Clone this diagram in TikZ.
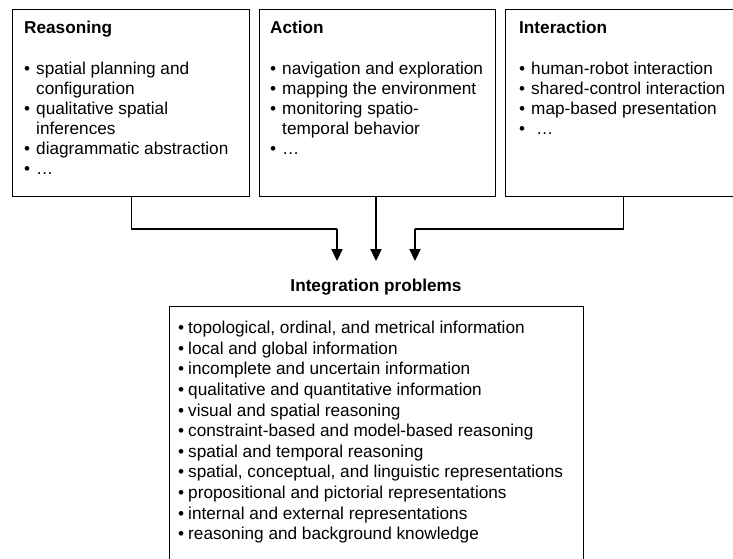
\documentclass[tikz,border=0pt]{standalone}
\usepackage{fontspec}
\setmainfont{Liberation Sans}
\usetikzlibrary{arrows.meta}
\newcommand\myitem{•\hspace{6pt}}
\newcommand\myindent{\phantom{•}\hspace{6pt}}
\newcommand\mybul{•\hspace{4pt}}
\begin{document}
\begin{tikzpicture}[x=1pt,y=-1pt,
  box/.style={draw, line width=1.1pt, rectangle, inner sep=0pt, anchor=north west},
  txt/.style={anchor=north west, inner sep=0pt, align=left, font=\fontsize{17.2}{20}\selectfont},
  ltxt/.style={anchor=north west, inner sep=0pt, align=left, font=\fontsize{17.2}{20.6}\selectfont},
  link/.style={line width=1.1pt},
  arr/.style={line width=2.2pt, -{Triangle[width=11pt,length=12pt]}}]
\useasboundingbox (0,0) rectangle (733,558);

\node[box, minimum width=237pt, minimum height=187pt] (reas) at (12,9) {};
\node[box, minimum width=236pt, minimum height=187pt] (act) at (259,9) {};
\node[box, minimum width=236pt, minimum height=187pt] (inter) at (505,9) {};
\node[box, minimum width=414pt, minimum height=253pt] (integ) at (169,306) {};

\node[txt] (reasT) at (24,20) {\rule{0pt}{13pt}\textbf{Reasoning}\\[21pt]
\myitem spatial planning and\\
\myindent configuration\\
\myitem qualitative spatial\\
\myindent inferences\\
\myitem diagrammatic abstraction\\
\myitem …};

\node[txt] (actT) at (270,20) {\rule{0pt}{13pt}\textbf{Action}\\[21pt]
\myitem navigation and exploration\\
\myitem mapping the environment\\
\myitem monitoring spatio-\\
\myindent temporal behavior\\
\myitem …};

\node[txt] (interT) at (519,20) {\rule{0pt}{13pt}\textbf{Interaction}\\[21pt]
\myitem human-robot interaction\\
\myitem shared-control interaction\\
\myitem map-based presentation\\
•\hspace{11pt}…};

\node[inner sep=0pt, font=\fontsize{17.2}{20.6}\selectfont\bfseries] (title) at (376,287) {Integration problems};

\node[ltxt] (integT) at (178,320.5) {\rule{0pt}{13pt}\mybul topological, ordinal, and metrical information\\
\mybul local and global information\\
\mybul incomplete and uncertain information\\
\mybul qualitative and quantitative information\\
\mybul visual and spatial reasoning\\
\mybul constraint-based and model-based reasoning\\
\mybul spatial and temporal reasoning\\
\mybul spatial, conceptual, and linguistic representations\\
\mybul propositional and pictorial representations\\
\mybul internal and external representations\\
\mybul reasoning and background knowledge};

\coordinate (jl) at (337,229);
\coordinate (tl) at (337,261);
\coordinate (tm) at (376,261);
\coordinate (jr) at (415,229);
\coordinate (tr) at (415,261);

\draw[link] (reas.south) |- (jl);
\draw[arr] (jl) -- (tl);
\draw[arr] (act.south -| tm) -- (tm);
\draw[link] (inter.south) |- (jr);
\draw[arr] (jr) -- (tr);
\end{tikzpicture}
\end{document}
